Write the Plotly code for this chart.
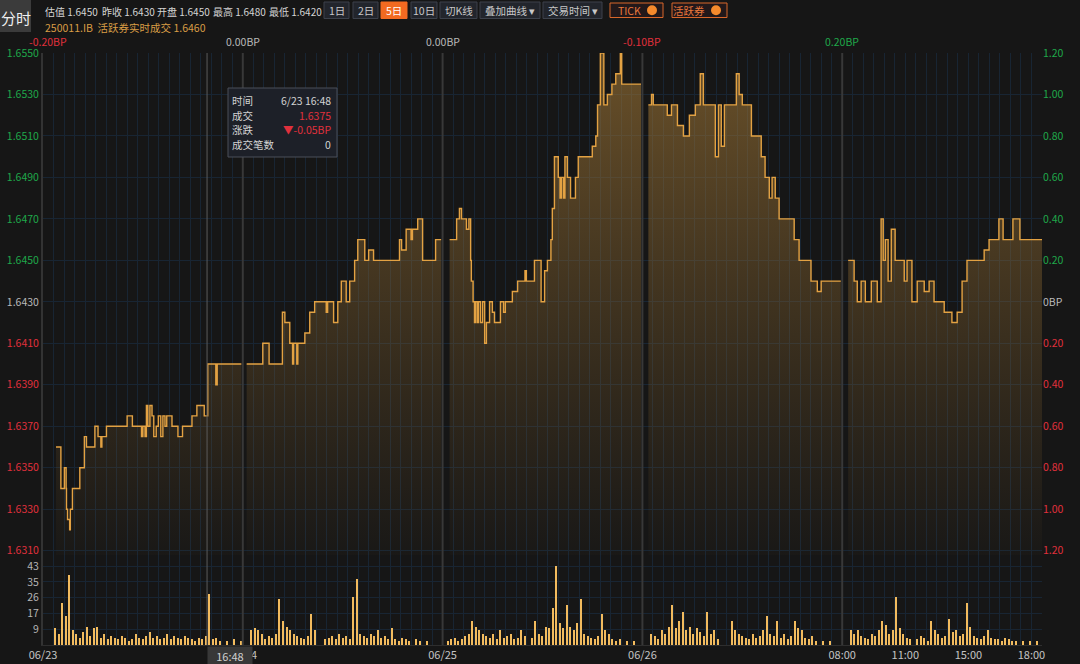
import plotly.graph_objects as go

# ---------------- data ----------------
PREV_CLOSE = 1.6430
DAY_LABELS = ["06/23", "06/24", "06/25", "06/26"]
DAY_CHANGE_BP = [-0.20, 0.00, 0.00, -0.10, 0.20]
LAST_DAY_TICKS = ["08:00", "11:00", "15:00", "18:00"]
DAY_END = ["18:26", "18:26", "18:26", "18:26", "18:30"]

d1_times = ["08:37", "08:51", "09:01", "09:06", "09:07", "09:10", "09:16", "09:18", "09:24", "09:45",
            "09:58", "10:04", "10:28", "10:37", "10:45", "10:48", "11:01", "13:00", "13:15", "13:41",
            "13:45", "13:51", "13:55", "13:59", "14:05", "14:11", "14:16", "14:23", "14:29", "14:36",
            "14:42", "14:48", "14:53", "15:08", "15:25", "15:38", "16:05", "16:19", "16:40", "16:50",
            "17:13", "17:17"]
d1_prices = [1.6360, 1.6340, 1.6350, 1.6340, 1.6330, 1.6325, 1.6320, 1.6330, 1.6340, 1.6350,
             1.6365, 1.6360, 1.6370, 1.6365, 1.6360, 1.6365, 1.6370, 1.6375, 1.6370, 1.6365,
             1.6370, 1.6365, 1.6380, 1.6370, 1.6380, 1.6375, 1.6365, 1.6370, 1.6375, 1.6365,
             1.6375, 1.6370, 1.6375, 1.6370, 1.6365, 1.6370, 1.6375, 1.6380, 1.6375, 1.6400,
             1.6390, 1.6400]

d2_times = ["08:11", "08:57", "09:15", "09:53", "10:00", "10:14", "10:22", "10:25", "10:34", "10:37",
            "10:57", "11:11", "11:25", "11:58", "13:02", "13:19", "13:31", "13:41", "13:55", "14:05",
            "14:19", "14:28", "14:48", "14:59", "15:13", "16:27", "16:33", "16:46", "17:00", "17:04",
            "17:19", "17:33", "18:10"]
d2_prices = [1.6400, 1.6410, 1.6400, 1.6425, 1.6420, 1.6410, 1.6400, 1.6410, 1.6400, 1.6410,
             1.6415, 1.6425, 1.6430, 1.6425, 1.6430, 1.6420, 1.6430, 1.6440, 1.6430, 1.6440,
             1.6450, 1.6460, 1.6450, 1.6455, 1.6450, 1.6460, 1.6455, 1.6465, 1.6460, 1.6465,
             1.6470, 1.6450, 1.6460]

d3_times = ["08:20", "08:40", "08:48", "08:54", "09:08", "09:15", "09:20", "09:22", "09:27", "09:31",
            "09:35", "09:40", "09:42", "09:48", "09:54", "10:00", "10:05", "10:14", "10:22", "10:28",
            "10:45", "10:54", "10:59", "11:19", "11:34", "11:55", "11:59", "13:22", "13:41", "13:51",
            "13:59", "14:09", "14:13", "14:19", "14:30", "14:35", "14:39", "14:45", "14:49", "14:56",
            "15:05", "15:19", "15:27", "16:07", "16:17", "16:22", "16:30", "16:40", "16:50", "17:03",
            "17:14", "17:27", "17:31"]
d3_prices = [1.6460, 1.6470, 1.6475, 1.6470, 1.6465, 1.6470, 1.6450, 1.6440, 1.6430, 1.6420,
             1.6430, 1.6420, 1.6430, 1.6420, 1.6430, 1.6410, 1.6420, 1.6430, 1.6425, 1.6420,
             1.6430, 1.6425, 1.6430, 1.6435, 1.6440, 1.6445, 1.6440, 1.6450, 1.6430, 1.6445,
             1.6450, 1.6460, 1.6475, 1.6500, 1.6490, 1.6480, 1.6490, 1.6480, 1.6500, 1.6490,
             1.6480, 1.6490, 1.6500, 1.6505, 1.6510, 1.6525, 1.6550, 1.6525, 1.6530, 1.6535,
             1.6540, 1.6550, 1.6535]

d4_times = ["08:17", "08:26", "08:31", "09:11", "09:23", "09:40", "09:57", "10:14", "10:31", "10:45",
            "10:54", "11:28", "11:37", "11:45", "11:54", "13:28", "13:36", "13:45", "14:11", "14:39",
            "14:50", "15:02", "15:10", "15:19", "15:30", "16:13", "16:27", "17:01", "17:19", "17:30"]
d4_prices = [1.6525, 1.6530, 1.6525, 1.6520, 1.6525, 1.6515, 1.6510, 1.6520, 1.6525, 1.6540,
             1.6525, 1.6500, 1.6525, 1.6505, 1.6525, 1.6540, 1.6530, 1.6525, 1.6510, 1.6500,
             1.6490, 1.6480, 1.6490, 1.6480, 1.6470, 1.6460, 1.6450, 1.6440, 1.6435, 1.6440]

d5_times = ["08:17", "08:34", "08:43", "08:54", "09:06", "09:23", "09:40", "09:51", "09:57", "10:03",
            "10:11", "10:20", "10:31", "10:57", "11:05", "11:19", "11:34", "11:54", "13:08", "13:22",
            "13:51", "14:13", "14:28", "14:42", "14:56", "15:45", "15:59", "16:27", "16:39", "17:07",
            "17:27"]
d5_prices = [1.6450, 1.6440, 1.6430, 1.6440, 1.6430, 1.6440, 1.6430, 1.6470, 1.6450, 1.6460,
             1.6440, 1.6465, 1.6450, 1.6440, 1.6450, 1.6430, 1.6440, 1.6435, 1.6440, 1.6430,
             1.6425, 1.6420, 1.6425, 1.6440, 1.6450, 1.6455, 1.6460, 1.6470, 1.6460, 1.6470,
             1.6460]

# volume per 10-minute trading bucket (57 buckets per day)
vol_d1 = [0, 0, 0, 9, 6, 23, 16, 38, 8, 6, 4, 7, 10, 5, 9, 10, 4, 6, 3, 5, 4, 3, 5, 4, 2, 3, 6, 4, 3,
          5, 7, 4, 5, 3, 4, 6, 3, 5, 4, 3, 5, 4, 3, 2, 4, 3, 5, 28, 3, 4, 2, 0, 2, 0, 3, 0, 2]
vol_d2 = [0, 0, 8, 9, 8, 6, 3, 5, 4, 6, 25, 13, 10, 8, 6, 5, 4, 3, 5, 17, 8, 0, 0, 3, 4, 5, 3, 6, 4,
          5, 3, 26, 36, 6, 5, 4, 6, 5, 8, 4, 5, 3, 9, 3, 2, 4, 3, 2, 0, 3, 2, 0, 2, 0, 0, 0, 0]
vol_d3 = [0, 2, 3, 4, 2, 3, 5, 6, 13, 10, 8, 6, 5, 4, 6, 3, 8, 4, 5, 6, 3, 4, 8, 5, 0, 4, 13, 6, 5,
          10, 9, 20, 43, 12, 9, 22, 10, 8, 12, 25, 6, 5, 4, 3, 5, 17, 8, 6, 3, 2, 3, 0, 2, 0, 2, 0, 0]
vol_d4 = [0, 0, 6, 5, 3, 8, 6, 10, 22, 9, 13, 18, 8, 10, 6, 9, 7, 5, 18, 6, 8, 3, 0, 0, 0, 13, 8, 6,
          5, 4, 3, 6, 4, 5, 8, 16, 6, 5, 13, 4, 6, 3, 5, 13, 9, 8, 4, 3, 5, 2, 0, 2, 0, 2, 0, 0, 0]
vol_d5 = [0, 0, 8, 6, 8, 5, 4, 3, 6, 5, 8, 13, 11, 6, 8, 26, 9, 6, 4, 3, 0, 3, 5, 4, 2, 13, 8, 6, 4,
          5, 14, 7, 8, 5, 6, 23, 10, 5, 4, 3, 5, 8, 4, 3, 3, 2, 4, 3, 2, 2, 0, 2, 0, 2, 0, 2, 0]

PRICE_TICKS = [1.6310, 1.6330, 1.6350, 1.6370, 1.6390, 1.6410, 1.6430,
               1.6450, 1.6470, 1.6490, 1.6510, 1.6530, 1.6550]
VOL_TICKS = [8.6, 17.2, 25.8, 34.4, 43.0]
VOL_TICK_TEXT = ["9", "17", "26", "35", "43"]

HEADER = [("估值", "1.6450"), ("昨收", "1.6430"), ("开盘", "1.6450"), ("最高", "1.6480"), ("最低", "1.6420")]
SUB_HEADER = "250011.IB  活跃券实时成交 1.6460"
CURSOR = {"day": 0, "time": "16:48", "label": "6/23 16:48", "price": "1.6375",
          "change": "▼-0.05BP", "count": "0"}

# ---------------- helpers ----------------
DAY_MIN = 570  # 08:00-12:00 + 13:00-18:30


def tmin(t):
    h, m = map(int, t.split(":"))
    c = h * 60 + m - 480
    return c if c <= 240 else c - 60


def xpos(day, t):
    return day * DAY_MIN + tmin(t)


W, H = 1080, 664
L, R, T, B = 43, 38, 53, 19
PW, PH = W - L - R, H - T - B


def px(x):
    return (x - L) / PW


def py(y):
    return (H - B - y) / PH


GREEN = "#1fa84a"
RED = "#e0303c"
GRAY = "#b9b9b9"
GRID = "#182533"
FONT = "Noto Sans CJK SC, Noto Sans, sans-serif"

fig = go.Figure()

days = [(d1_times, d1_prices), (d2_times, d2_prices), (d3_times, d3_prices),
        (d4_times, d4_prices), (d5_times, d5_prices)]
for d, (ts, ps) in enumerate(days):
    xs = [xpos(d, t) for t in ts] + [xpos(d, DAY_END[d])]
    ys = list(ps) + [ps[-1]]
    fig.add_trace(go.Scatter(
        x=xs, y=ys, mode="lines", line=dict(color="#e3a243", width=1.4, shape="hv"),
        fill="tozeroy",
        fillgradient=dict(type="vertical",
                          colorscale=[[0, "rgba(150,110,50,0.03)"], [1, "rgba(165,122,55,0.58)"]],
                          start=1.6310, stop=1.6550),
        xaxis="x", yaxis="y", hoverinfo="skip", showlegend=False))

vols = [vol_d1, vol_d2, vol_d3, vol_d4, vol_d5]
vx, vy = [], []
for d, vl in enumerate(vols):
    for k, v in enumerate(vl):
        if v > 0:
            vx.append(d * DAY_MIN + k * 10 + 5)
            vy.append(v)
fig.add_trace(go.Bar(x=vx, y=vy, width=3.5, marker=dict(color="#f2bb5e", line=dict(width=0)),
                     xaxis="x2", yaxis="y2", hoverinfo="skip", showlegend=False))
fig.add_trace(go.Scatter(x=[0], y=[PREV_CLOSE], mode="markers", marker=dict(opacity=0),
                         xaxis="x", yaxis="y3", hoverinfo="skip", showlegend=False))

# axes
total = 5 * DAY_MIN
grid_vals = list(range(0, total + 1, 30))
label_map = {d * DAY_MIN: DAY_LABELS[d] for d in range(4)}
for t in LAST_DAY_TICKS:
    label_map[xpos(4, t)] = t
grid_text = [label_map.get(v, "") for v in grid_vals]


def lcol(p):
    if abs(p - PREV_CLOSE) < 1e-9:
        return GRAY
    return GREEN if p > PREV_CLOSE else RED


left_text = [f'<span style="color:{lcol(p)}">{p:.4f}</span>' for p in PRICE_TICKS]
right_text = []
for p in PRICE_TICKS:
    if abs(p - PREV_CLOSE) < 1e-9:
        right_text.append(f'<span style="color:{GRAY}">0BP</span>')
    else:
        right_text.append(f'<span style="color:{lcol(p)}">{abs(p - PREV_CLOSE) * 100:.2f}</span>')

price_range = [1.63079, 1.6550]
vol_dom = 90 / PH

fig.update_layout(
    width=W, height=H, margin=dict(l=L, r=R, t=T, b=B, autoexpand=False),
    paper_bgcolor="#161616", plot_bgcolor="#161616",
    font=dict(family=FONT, size=11, color=GRAY),
    bargap=0, showlegend=False, hovermode=False,
    xaxis=dict(domain=[0, 1], anchor="y", range=[0, total], tickmode="array", tickvals=grid_vals,
               showticklabels=False, showgrid=True, gridcolor=GRID, gridwidth=1, zeroline=False,
               ticks="", showline=False, automargin=False),
    xaxis2=dict(domain=[0, 1], anchor="y2", matches="x", range=[0, total], tickmode="array",
                tickvals=grid_vals, ticktext=grid_text, showgrid=True, gridcolor=GRID, zeroline=False,
                ticks="", showline=True, linecolor="#2e2e2e", automargin=False,
                tickfont=dict(size=11, color="#c4c4c4")),
    yaxis=dict(domain=[vol_dom, 1], anchor="x", range=price_range, tickmode="array",
               tickvals=PRICE_TICKS, ticktext=left_text, showgrid=True, gridcolor=GRID,
               zeroline=False, ticks="", showline=True, linecolor="#333333", linewidth=2,
               automargin=False, tickfont=dict(size=10.5)),
    yaxis2=dict(domain=[0, vol_dom], anchor="x2", range=[0, 49], tickmode="array",
                tickvals=VOL_TICKS, ticktext=VOL_TICK_TEXT, showgrid=True, gridcolor=GRID,
                zeroline=False, ticks="", showline=True, linecolor="#333333", linewidth=2,
                automargin=False, tickfont=dict(size=10.5, color="#b5b5b5")),
    yaxis3=dict(overlaying="y", side="right", anchor="x", range=price_range, tickmode="array",
                tickvals=PRICE_TICKS, ticktext=right_text, showgrid=False, zeroline=False,
                ticks="", showline=False, automargin=False, tickfont=dict(size=10.5)),
)

shapes = []
annotations = []

# day separators
for d in range(1, 5):
    shapes.append(dict(type="line", xref="x", yref="paper", x0=d * DAY_MIN, x1=d * DAY_MIN,
                       y0=0, y1=1, line=dict(color="#383838", width=2), layer="above"))
# cursor line
cx = xpos(CURSOR["day"], CURSOR["time"])
shapes.append(dict(type="line", xref="x", yref="paper", x0=cx, x1=cx, y0=0, y1=1,
                   line=dict(color="#5c5c5c", width=1), layer="above"))

# daily change labels above plot
for d, bp in enumerate(DAY_CHANGE_BP):
    col = GRAY if bp == 0 else (GREEN if bp > 0 else RED)
    annotations.append(dict(x=d * DAY_MIN, xref="x", y=py(41.5), yref="paper", text=f"{bp:.2f}BP",
                            showarrow=False, font=dict(size=10.5, color=col),
                            xanchor="left" if d == 0 else "center", xshift=-16 if d == 0 else 0,
                            yanchor="middle"))

# cursor time label at bottom
annotations.append(dict(x=cx, xref="x", y=py(655), yref="paper", text=CURSOR["time"], showarrow=False,
                        xanchor="left", yanchor="middle", bgcolor="#383838", width=42, height=15,
                        font=dict(size=11, color="#d0d0d0")))

# tooltip
shapes.append(dict(type="rect", xref="paper", yref="paper", x0=px(228), x1=px(337), y0=py(157), y1=py(88),
                   fillcolor="#1d2028", line=dict(color="#4a4f58", width=1), layer="above"))
rows = [("时间", CURSOR["label"], "#d2d2d2"), ("成交", CURSOR["price"], RED),
        ("涨跌", CURSOR["change"], RED), ("成交笔数", CURSOR["count"], "#d2d2d2")]
for i, (k, v, c) in enumerate(rows):
    yy = py(100.5 + i * 14.6)
    annotations.append(dict(x=px(230), y=yy, xref="paper", yref="paper", text=k, showarrow=False,
                            xanchor="left", yanchor="middle", font=dict(size=10.5, color="#d2d2d2")))
    annotations.append(dict(x=px(333), y=yy, xref="paper", yref="paper", text=v, showarrow=False,
                            xanchor="right", yanchor="middle", font=dict(size=10.5, color=c)))

# header: 分时 box
shapes.append(dict(type="rect", xref="paper", yref="paper", x0=px(0), x1=px(31), y0=py(32), y1=py(0),
                   fillcolor="#3b3b3b", line=dict(width=0)))
annotations.append(dict(x=px(15.5), y=py(17), xref="paper", yref="paper", text="分时", showarrow=False,
                        font=dict(size=15, color="#f0f0f0"), xanchor="center", yanchor="middle"))

hx = [43, 100, 155, 211, 267]
for (k, v), x0 in zip(HEADER, hx):
    annotations.append(dict(x=px(x0), y=py(11.5), xref="paper", yref="paper", text=f"{k} {v}",
                            showarrow=False, xanchor="left", yanchor="middle",
                            font=dict(size=10, color="#d4d4d4")))
annotations.append(dict(x=px(43), y=py(27.5), xref="paper", yref="paper", text=SUB_HEADER,
                        showarrow=False, xanchor="left", yanchor="middle",
                        font=dict(size=10.5, color="#d99d45")))

buttons = [("1日", 324, 349, False), ("2日", 353, 378, False), ("5日", 381, 407, True),
           ("10日", 411, 437, False), ("切K线", 440, 477, False), ("叠加曲线 ▾", 480, 540, False),
           ("交易时间 ▾", 543, 602, False)]
for text, x0, x1, act in buttons:
    shapes.append(dict(type="rect", xref="paper", yref="paper", x0=px(x0), x1=px(x1), y0=py(18.5),
                       y1=py(2), fillcolor="#f26a21" if act else "#22252c",
                       line=dict(color="#f26a21" if act else "#3c414b", width=1)))
    annotations.append(dict(x=px((x0 + x1) / 2), y=py(10.5), xref="paper", yref="paper", text=text,
                            showarrow=False, xanchor="center", yanchor="middle",
                            font=dict(size=10.5, color="#ffffff" if act else "#c8c8c8")))

pills = [("TICK", 610, 663, 652), ("活跃券", 672, 727, 716)]
for text, x0, x1, dot in pills:
    shapes.append(dict(type="rect", xref="paper", yref="paper", x0=px(x0), x1=px(x1), y0=py(17.5),
                       y1=py(3), fillcolor="#22181a", line=dict(color="#d8662a", width=1)))
    shapes.append(dict(type="circle", xref="paper", yref="paper", x0=px(dot - 5), x1=px(dot + 5),
                       y0=py(15.3), y1=py(5.3), fillcolor="#f58a2c", line=dict(width=0)))
    annotations.append(dict(x=px(dot - 9), y=py(10.3), xref="paper", yref="paper", text=text,
                            showarrow=False, xanchor="right", yanchor="middle",
                            font=dict(size=10.5, color="#e8773a")))

fig.update_layout(shapes=shapes, annotations=annotations)
fig.write_html("out.html", config={"displayModeBar": False},
               post_script="document.body.style.margin='0';document.body.style.background='#161616';")
